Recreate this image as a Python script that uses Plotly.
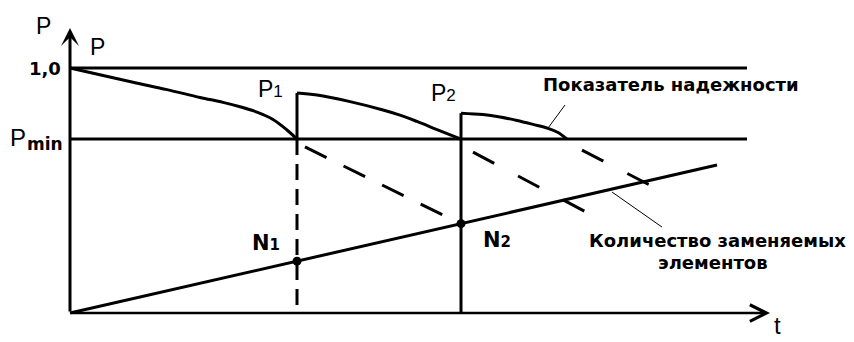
import plotly.graph_objects as go

# ---------------- data ----------------
P_MAX = 1.0          # reliability level 1,0
P_MIN = 0.71         # minimal admissible reliability
T_LINES_END = 67.7   # length of horizontal reference lines
T_AXIS_END = 70.0
P_AXIS_END = 1.163

t_repl = [22.7, 39.1]          # replacement moments t1, t2

rel1_t = [0, 6.3, 9.7, 13.0, 15.3, 17.0, 18.7, 20.3, 21.7, 22.7]
rel1_p = [1.0, 0.942, 0.912, 0.880, 0.860, 0.842, 0.820, 0.790, 0.747, 0.710]

rel2_t = [22.7, 24.7, 28.0, 31.3, 33.0, 34.7, 36.7, 39.1]
rel2_p = [0.898, 0.890, 0.863, 0.829, 0.808, 0.782, 0.749, 0.710]

rel3_t = [39.1, 41.3, 43.0, 44.7, 46.3, 47.8, 48.8, 49.7]
rel3_p = [0.816, 0.810, 0.800, 0.786, 0.770, 0.754, 0.737, 0.710]

n_t = [0, 64.7]                 # number of replaced elements (straight line)
n_p = [0, 0.604]

dash1_t = [23.5, 37.3]; dash1_p = [0.678, 0.400]
dash2_t = [40.3, 51.8]; dash2_p = [0.657, 0.408]
dash3_t = [51.2, 58.0]; dash3_p = [0.665, 0.522]

lead1_t = [47.8, 49.5]; lead1_p = [0.755, 0.849]
lead2_t = [54.2, 59.2]; lead2_p = [0.494, 0.351]

# ---------------- figure ----------------
BLK = "black"
SANS = "Liberation Sans"
BOLD = "DejaVu Sans"
fig = go.Figure()

def line(x, y, width=3, dash="solid", shape="linear"):
    fig.add_trace(go.Scatter(x=x, y=y, mode="lines",
                             line=dict(color=BLK, width=width, dash=dash, shape=shape),
                             hoverinfo="skip", showlegend=False))

# horizontal reference lines
line([0, T_LINES_END], [P_MAX, P_MAX], width=3)
line([0, T_LINES_END], [P_MIN, P_MIN], width=3)

# reliability curves
line(rel1_t, rel1_p, shape="spline")
line(rel2_t, rel2_p, shape="spline")
line(rel3_t, rel3_p, shape="spline")

# vertical replacement lines
line([t_repl[0], t_repl[0]], [rel2_p[0], P_MIN], width=3)
line([t_repl[0], t_repl[0]], [P_MIN, 0], width=3, dash="16px,9px")
line([t_repl[1], t_repl[1]], [rel3_p[0], 0], width=3)

# number of replaced elements
line(n_t, n_p)
slope = n_p[1] / n_t[1]
fig.add_trace(go.Scatter(x=t_repl, y=[slope * t for t in t_repl], mode="markers",
                         marker=dict(color=BLK, size=9), hoverinfo="skip",
                         showlegend=False))

# dashed decline lines
line(dash1_t, dash1_p, width=3, dash="24px,19px")
line(dash2_t, dash2_p, width=3, dash="24px,27px")
line(dash3_t, dash3_p, width=3, dash="24px,27px")

# leader lines
line(lead1_t, lead1_p, width=1)
line(lead2_t, lead2_p, width=1)

# axes with arrows
fig.add_annotation(x=T_AXIS_END, y=0, ax=0, ay=0, xref="x", yref="y",
                   axref="x", ayref="y", showarrow=True, arrowhead=5,
                   arrowsize=1.3, arrowwidth=2.5, arrowcolor=BLK, text="")
fig.add_annotation(x=0, y=P_AXIS_END, ax=0, ay=0, xref="x", yref="y",
                   axref="x", ayref="y", showarrow=True, arrowhead=3,
                   arrowsize=1.0, arrowwidth=3, arrowcolor=BLK, text="")

def label(x, y, text, size=20, family=SANS, xanchor="center", yanchor="middle"):
    fig.add_annotation(x=x, y=y, text=text, showarrow=False, xref="x", yref="y",
                       xanchor=xanchor, yanchor=yanchor,
                       font=dict(family=family, size=size, color=BLK))

label(-2.7, 1.171, "P", size=23)
label(2.7, 1.086, "P", size=23)
label(-2.5, P_MAX, "<b>1,0</b>", size=18, family=BOLD)
label(-5.25, 0.716, "P", size=24)
label(-2.5, 0.692, "<b>min</b>", size=17, family=BOLD)
label(20.05, 0.914, "P<span style='font-size:17px'>1</span>", size=23)
label(37.3, 0.898, "P<span style='font-size:17px'>2</span>", size=23)
label(19.6, 0.286, "<b>N<span style='font-size:15px'>1</span></b>", size=21, family=BOLD)
label(42.7, 0.298, "<b>N<span style='font-size:15px'>2</span></b>", size=21, family=BOLD)
label(60.1, 0.931, "<b>Показатель надежности</b>", size=18, family=BOLD)
label(64.7, 0.298, "<b>Количество заменяемых</b>", size=18, family=BOLD)
label(64.3, 0.208, "<b>элементов</b>", size=18, family=BOLD)
label(70.7, -0.113, "t", size=24, yanchor="bottom")

# the page body has an 8px margin: the figure is 8px smaller than the window
fig.update_layout(
    width=846, height=334,
    margin=dict(l=0, r=0, t=0, b=0),
    paper_bgcolor="white", plot_bgcolor="white",
    xaxis=dict(range=[-6.2, 78.4], visible=False, fixedrange=True),
    yaxis=dict(range=[-0.118, 1.245], visible=False, fixedrange=True),
    showlegend=False,
)

fig.write_html("out.html")
